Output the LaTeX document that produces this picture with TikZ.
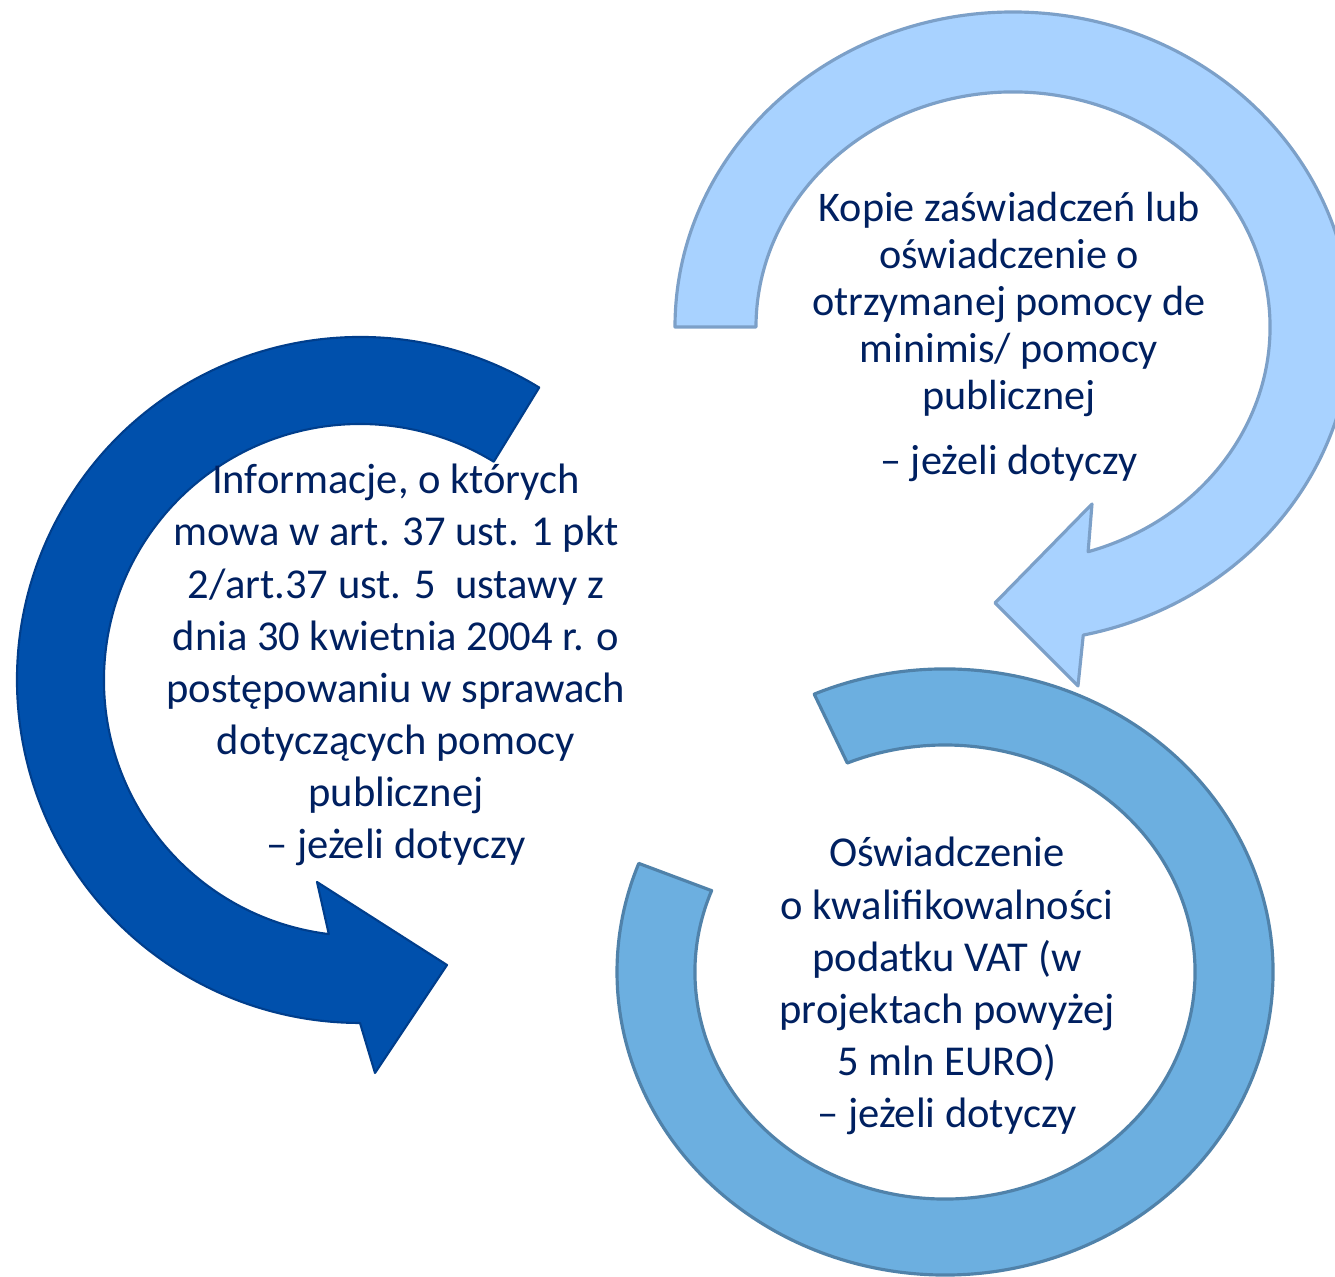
\documentclass[tikz,border=0pt]{standalone}
\usepackage{fontspec}
\setmainfont{Carlito}
\usetikzlibrary{calc}
\definecolor{navytext}{RGB}{0,32,96}
\definecolor{darkfill}{RGB}{0,80,172}
\definecolor{darkline}{RGB}{0,62,140}
\definecolor{lightfill}{RGB}{168,210,255}
\definecolor{lightline}{RGB}{124,160,200}
\definecolor{midfill}{RGB}{108,175,224}
\definecolor{midline}{RGB}{80,130,170}

\begin{document}
\begin{tikzpicture}[x=0.01cm,y=0.01cm,
	darkarrow/.style={fill=darkfill,draw=darkline,line width=0.6pt,line join=round},
	lightarrow/.style={fill=lightfill,draw=lightline,line width=0.9pt,line join=round},
	midring/.style={fill=midfill,draw=midline,line width=0.9pt,line join=round},
	textblock/.style={align=center,text=navytext,inner sep=0pt}]
	% Page frame
	\clip (0,0) rectangle (1335,-1277);
	
	% Centres of the three rings
	\coordinate (cB) at (360,-680);
	\coordinate (cA) at (1013,-327);
	\coordinate (cC) at (945,-972);
	
	% Dark arrow on the left
	\filldraw[darkarrow] ($(cB)+(58.5:343)$) arc[start angle=58.5,end angle=270,radius=343]
		-- (375,-1073) -- (447,-965) -- (317,-882)
		-- ($(cB)+(263:256)$) arc[start angle=263,end angle=58.5,radius=256] -- cycle;
	
	% Light arrow at the top right
	\filldraw[lightarrow] ($(cA)+(180:338 and 315)$) arc[start angle=180,end angle=-78,x radius=338,y radius=315]
		-- (1078,-686) -- (995,-603) -- (1092,-504)
		-- ($(cA)+(-73:257 and 235)$) arc[start angle=-73,end angle=180,x radius=257,y radius=235] -- cycle;
	
	% Open ring at the bottom right
	\filldraw[midring] ($(cC)+(113.5:328 and 303)$) arc[start angle=113.5,end angle=-201,x radius=328,y radius=303]
		-- ($(cC)+(-201:250 and 227)$) arc[start angle=-201,end angle=113,x radius=250,y radius=227] -- cycle;
	
	% Texts
	\node[textblock,font=\fontsize{12}{13.4}\selectfont] (kopie) at (1009,-337)
		{Kopie zaświadczeń lub\\oświadczenie o\\otrzymanej pomocy de\\minimis/ pomocy\\publicznej\\[5pt]– jeżeli dotyczy};
	\node[textblock,font=\fontsize{12.1}{14.8}\selectfont] (info) at (396,-665)
		{Informacje, o których\\mowa w art. 37 ust. 1 pkt\\2/art.37 ust. 5\ \ ustawy z\\dnia 30 kwietnia 2004 r. o\\postępowaniu w sprawach\\dotyczących pomocy\\publicznej\\– jeżeli dotyczy};
	\node[textblock,font=\fontsize{12.1}{14.8}\selectfont] (vat) at (947,-986)
		{Oświadczenie\\o kwalifikowalności\\podatku VAT (w\\projektach powyżej\\5 mln EURO)\\– jeżeli dotyczy};
\end{tikzpicture}
\end{document}
